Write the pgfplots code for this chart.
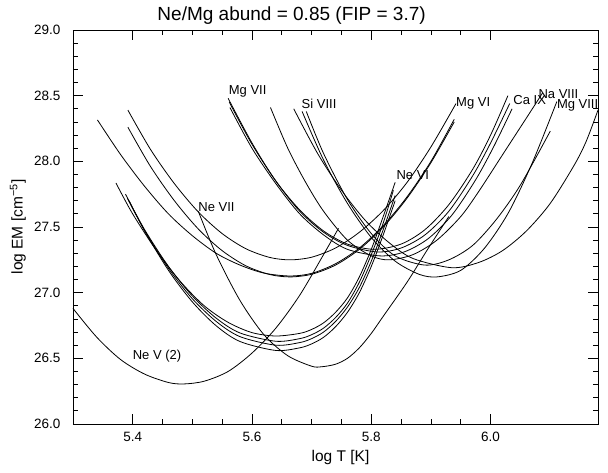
\documentclass[border=0pt]{standalone}
\usepackage{fontspec}
\setmainfont{Liberation Sans}
\usepackage{pgfplots}
\pgfplotsset{compat=1.18}
\tikzset{lbl/.style={anchor=base west, inner sep=0pt, font=\fontsize{13}{15}\selectfont}}
\pgfplotsset{em/.style={black, solid, line width=0.8pt, smooth, no markers}}

\begin{document}
\begin{tikzpicture}
\begin{axis}[
  at={(0,0)}, anchor=south west,
  width=525pt, height=394pt, scale only axis,
  axis lines=box,
  xmin=5.3, xmax=6.18, ymin=26, ymax=29,
  xtick={5.4,5.6,5.8,6.0}, minor x tick num=3,
  ytick={26,26.5,27,27.5,28,28.5,29}, minor y tick num=4,
  xtick pos=both, ytick pos=both,
  xtick align=inside, ytick align=inside,
  major tick length=10pt, minor tick length=5pt,
  every major tick/.append style={black, line width=0.8pt},
  every minor tick/.append style={black, line width=0.8pt},
  axis line style={black, line width=0.8pt},
  /pgf/number format/assume math mode=true,
  xticklabel style={/pgf/number format/fixed, /pgf/number format/fixed zerofill,
    /pgf/number format/precision=1, yshift=-5pt},
  yticklabel style={/pgf/number format/fixed, /pgf/number format/fixed zerofill,
    /pgf/number format/precision=1, xshift=-9pt},
  tick label style={font=\fontsize{13.5}{15}\selectfont},
  title={Ne/Mg abund = 0.85 (FIP = 3.7)},
  title style={font=\fontsize{19}{22}\selectfont, at={(axis description cs:0.4164,1.009)},
    anchor=base, yshift=0pt},
  xlabel={log T [K]},
  xlabel style={font=\fontsize{15.5}{17}\selectfont, at={(axis description cs:0.5095,-0.084)}, anchor=center},
  ylabel={log EM [cm\textsuperscript{−5}]},
  ylabel style={font=\fontsize{15.5}{17}\selectfont, at={(axis description cs:-0.105,0.5)}, anchor=center},
  clip=false,
]
% Ne V (2)
\addplot[em] coordinates {(5.30,26.88) (5.34,26.66) (5.38,26.49) (5.42,26.38) (5.46,26.316)
  (5.486,26.305) (5.52,26.326) (5.56,26.40) (5.60,26.54) (5.64,26.73) (5.68,26.98)
  (5.72,27.29) (5.745,27.49)};
% Ne VII
\addplot[em] coordinates {(5.51,27.62) (5.54,27.29) (5.58,26.94) (5.62,26.68) (5.66,26.52)
  (5.70,26.44) (5.717,26.436) (5.74,26.455) (5.76,26.50) (5.78,26.58) (5.80,26.69)
  (5.82,26.82) (5.86,27.08) (5.893,27.32) (5.93,27.58)};
% Ne VI
\addplot[em] coordinates {(5.372,27.835) (5.40,27.60) (5.44,27.32) (5.48,27.085) (5.52,26.90)
  (5.56,26.774) (5.60,26.696) (5.64,26.67) (5.68,26.69) (5.70,26.72) (5.72,26.77)
  (5.74,26.85) (5.76,26.96) (5.78,27.12) (5.80,27.33) (5.82,27.58) (5.84,27.84)};
\addplot[em] coordinates {(5.388,27.75) (5.42,27.48) (5.46,27.20) (5.50,26.975) (5.54,26.806)
  (5.58,26.693) (5.64,26.63) (5.68,26.65) (5.70,26.68) (5.72,26.73) (5.74,26.81)
  (5.76,26.92) (5.78,27.08) (5.80,27.29) (5.82,27.53) (5.837,27.78)};
\addplot[em] coordinates {(5.391,27.72) (5.42,27.474) (5.46,27.185) (5.50,26.954) (5.54,26.781)
  (5.58,26.665) (5.64,26.60) (5.68,26.62) (5.70,26.65) (5.72,26.70) (5.74,26.78)
  (5.76,26.89) (5.78,27.04) (5.80,27.24) (5.82,27.48) (5.84,27.74)};
\addplot[em] coordinates {(5.394,27.70) (5.42,27.47) (5.46,27.17) (5.50,26.93) (5.54,26.748)
  (5.58,26.628) (5.64,26.56) (5.68,26.58) (5.70,26.61) (5.72,26.66) (5.74,26.74)
  (5.76,26.85) (5.78,27.00) (5.80,27.20) (5.82,27.44) (5.84,27.70)};
% Mg VI
\addplot[em] coordinates {(5.392,28.39) (5.43,28.09) (5.47,27.83) (5.51,27.615) (5.55,27.45)
  (5.59,27.334) (5.63,27.268) (5.664,27.25) (5.70,27.27) (5.74,27.34) (5.78,27.46)
  (5.82,27.625) (5.86,27.84) (5.90,28.11) (5.942,28.44)};
\addplot[em] coordinates {(5.341,28.315) (5.38,28.05) (5.42,27.81) (5.46,27.60) (5.50,27.434)
  (5.54,27.30) (5.58,27.21) (5.62,27.149) (5.664,27.127) (5.70,27.147) (5.74,27.22)
  (5.78,27.34) (5.82,27.51) (5.86,27.73) (5.90,28.00) (5.939,28.32)};
\addplot[em] coordinates {(5.392,28.26) (5.43,27.96) (5.47,27.70) (5.51,27.485) (5.55,27.32)
  (5.59,27.204) (5.63,27.138) (5.664,27.12) (5.70,27.14) (5.74,27.21) (5.78,27.33)
  (5.82,27.50) (5.86,27.72) (5.90,27.99) (5.939,28.30)};
% Mg VII
\addplot[em] coordinates {(5.56,28.48) (5.60,28.14) (5.64,27.85) (5.68,27.63) (5.72,27.47)
  (5.76,27.37) (5.805,27.33) (5.85,27.37) (5.89,27.48) (5.93,27.67) (5.97,27.94)
  (6.00,28.20) (6.029,28.50)};
\addplot[em] coordinates {(5.562,28.45) (5.60,28.13) (5.64,27.85) (5.68,27.62) (5.72,27.46)
  (5.76,27.36) (5.81,27.31) (5.85,27.34) (5.89,27.44) (5.93,27.62) (5.97,27.89)
  (6.00,28.14) (6.032,28.44)};
\addplot[em] coordinates {(5.563,28.41) (5.60,28.10) (5.64,27.83) (5.68,27.60) (5.72,27.44)
  (5.76,27.33) (5.815,27.28) (5.855,27.31) (5.895,27.41) (5.935,27.59) (5.975,27.86)
  (6.005,28.11) (6.036,28.40)};
% Na VIII
\addplot[em] coordinates {(5.631,28.41) (5.66,28.10) (5.69,27.84) (5.72,27.62) (5.76,27.40)
  (5.80,27.28) (5.83,27.25) (5.87,27.29) (5.91,27.40) (5.95,27.58) (5.98,27.77)
  (6.02,28.05) (6.06,28.33) (6.087,28.52)};
% Mg VIII
\addplot[em] coordinates {(5.684,28.38) (5.72,28.01) (5.76,27.68) (5.80,27.42) (5.84,27.24)
  (5.88,27.14) (5.91,27.12) (5.95,27.17) (5.99,27.34) (6.03,27.61) (6.07,27.99)
  (6.111,28.455)};
\addplot[em] coordinates {(5.691,28.38) (5.72,28.06) (5.76,27.71) (5.80,27.45) (5.84,27.28)
  (5.89,27.21) (5.93,27.25) (5.97,27.36) (6.01,27.56) (6.05,27.82) (6.10,28.23)};
% Si VIII
\addplot[em] coordinates {(5.67,28.40) (5.71,28.06) (5.75,27.78) (5.79,27.55) (5.83,27.38)
  (5.87,27.26) (5.935,27.19) (5.98,27.23) (6.02,27.32) (6.06,27.47) (6.10,27.68)
  (6.14,27.97) (6.16,28.15) (6.18,28.39)};

\node[lbl] at (axis cs:5.561,28.51) {Mg VII};
\node[lbl] at (axis cs:5.683,28.40) {Si VIII};
\node[lbl] at (axis cs:5.510,27.62) {Ne VII};
\node[lbl] at (axis cs:5.842,27.86) {Ne VI};
\node[lbl] at (axis cs:5.942,28.42) {Mg VI};
\node[lbl] at (axis cs:6.038,28.43) {Ca IX};
\node[lbl] at (axis cs:6.080,28.48) {Na VIII};
\node[lbl] at (axis cs:6.111,28.40) {Mg VIII};
\node[lbl] at (axis cs:5.400,26.49) {Ne V (2)};
\end{axis}
\pgfresetboundingbox
\useasboundingbox (-73pt,-48pt) rectangle (535pt,424pt);
\end{tikzpicture}
\end{document}
